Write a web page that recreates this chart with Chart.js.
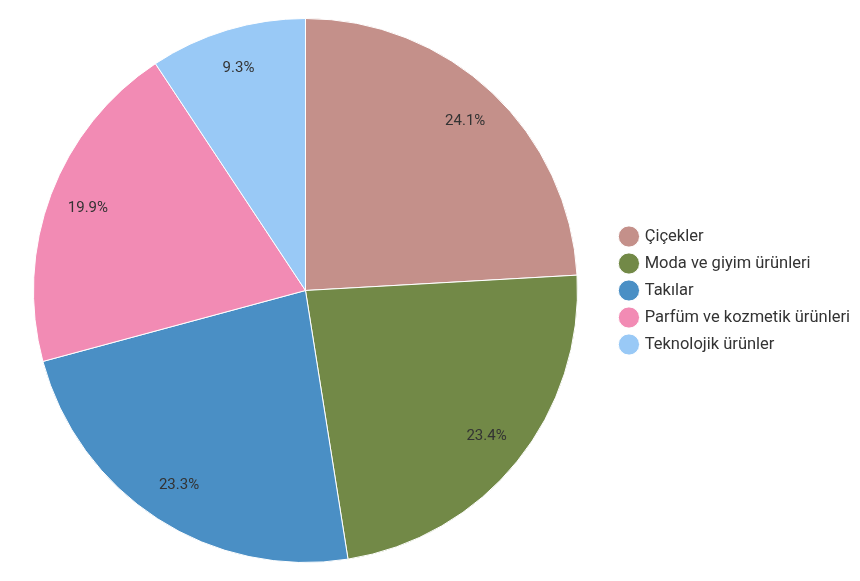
<!DOCTYPE html>
<html>
<head>
<meta charset="utf-8">
<script src="https://cdn.jsdelivr.net/npm/chart.js@4"></script>
<style>
  html, body { margin: 0; padding: 0; background: #fff; }
  #wrap { width: 860px; height: 581px; }
</style>
</head>
<body>
<div id="wrap"><canvas id="pie"></canvas></div>
<script>
const categories = ['Çiçekler', 'Moda ve giyim ürünleri', 'Takılar', 'Parfüm ve kozmetik ürünleri', 'Teknolojik ürünler'];
const shares = [24.1, 23.4, 23.3, 19.9, 9.3];
const sliceColors = ['#c4908a', '#728947', '#4a8fc5', '#f28bb4', '#99c9f6'];

// draws the percentage text inside each slice
const sliceLabels = {
  id: 'sliceLabels',
  afterDatasetsDraw(chart) {
    const ctx = chart.ctx;
    const meta = chart.getDatasetMeta(0);
    ctx.save();
    ctx.font = '15px Roboto';
    ctx.fillStyle = '#333';
    ctx.textAlign = 'center';
    ctx.textBaseline = 'middle';
    meta.data.forEach((arc, i) => {
      const p = arc.getProps(['x', 'y', 'startAngle', 'endAngle', 'outerRadius'], true);
      const mid = (p.startAngle + p.endAngle) / 2;
      const r = p.outerRadius * 0.855;
      ctx.fillText(shares[i].toFixed(1) + '%', p.x + Math.cos(mid) * r, p.y + Math.sin(mid) * r);
    });
    ctx.restore();
  }
};

new Chart(document.getElementById('pie'), {
  type: 'pie',
  data: {
    labels: categories,
    datasets: [{
      data: shares,
      backgroundColor: sliceColors,
      borderColor: '#fff',
      borderWidth: 1
    }]
  },
  options: {
    responsive: true,
    maintainAspectRatio: false,
    animation: false,
    layout: { padding: { top: 18, bottom: 18, left: 0, right: 0 } },
    plugins: {
      tooltip: { enabled: false },
      legend: {
        position: 'right',
        labels: {
          usePointStyle: true,
          pointStyle: 'circle',
          boxWidth: 15,
          boxHeight: 15,
          padding: 10.5,
          color: '#333',
          font: { family: 'Roboto', size: 16.5 }
        }
      }
    }
  },
  plugins: [sliceLabels]
});
</script>
</body>
</html>
